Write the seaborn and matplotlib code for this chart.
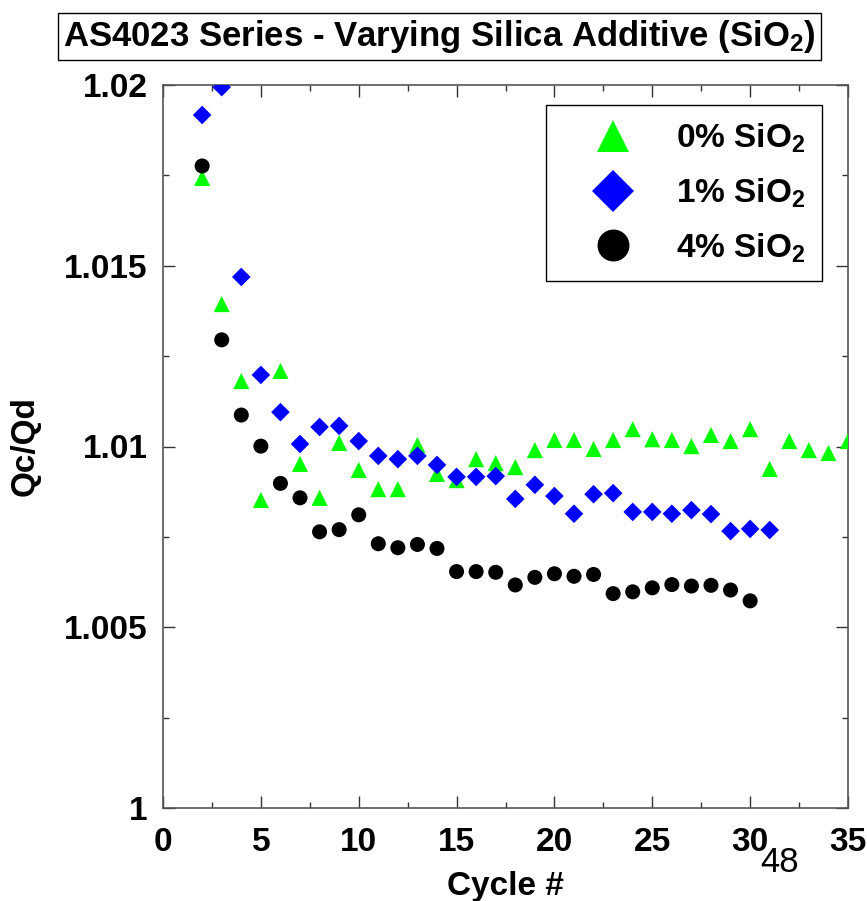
import numpy as np
import pandas as pd
import seaborn as sns
import matplotlib
matplotlib.use("Agg")
import matplotlib.pyplot as plt
from matplotlib.lines import Line2D
from matplotlib.ticker import MultipleLocator, FixedLocator, FixedFormatter

# ---- data ----
cycles_0 = list(range(2, 36))
qcqd_0 = [1.01743, 1.01394, 1.01181, 1.00852, 1.01209, 1.00952, 1.00858, 1.01010,
          1.00935, 1.00882, 1.00882, 1.01004, 1.00924, 1.00907, 1.00965, 1.00954,
          1.00943, 1.00990, 1.01018, 1.01018, 1.00993, 1.01018, 1.01048, 1.01020,
          1.01018, 1.01001, 1.01032, 1.01015, 1.01048, 1.00938, 1.01015, 1.00990,
          1.00982, 1.01015]

cycles_1 = list(range(2, 32))
qcqd_1 = [1.01917, 1.01994, 1.01469, 1.01198, 1.01095, 1.01007, 1.01054, 1.01057,
          1.01015, 1.00974, 1.00965, 1.00974, 1.00949, 1.00916, 1.00916, 1.00918,
          1.00855, 1.00894, 1.00863, 1.00814, 1.00868, 1.00871, 1.00819, 1.00819,
          1.00814, 1.00824, 1.00813, 1.00766, 1.00772, 1.00769]

cycles_4 = list(range(2, 31))
qcqd_4 = [1.01776, 1.01295, 1.01087, 1.01001, 1.00898, 1.00858, 1.00764, 1.00770,
          1.00811, 1.00731, 1.00720, 1.00729, 1.00718, 1.00654, 1.00654, 1.00652,
          1.00617, 1.00638, 1.00648, 1.00641, 1.00646, 1.00593, 1.00598, 1.00609,
          1.00618, 1.00614, 1.00616, 1.00603, 1.00573]

series_names = ["0% SiO$_2$", "1% SiO$_2$", "4% SiO$_2$"]
series_colors = ["#00FF00", "#0000FF", "#000000"]
series_markers = ["^", "D", "o"]

x_ticks = [0, 5, 10, 15, 20, 25, 30, 35]
x_tick_labels = ["0", "5", "10", "15", "20", "25", "30", "35"]
y_ticks = [1.0, 1.005, 1.01, 1.015, 1.02]
y_tick_labels = ["1", "1.005", "1.01", "1.015", "1.02"]

df = pd.concat([
    pd.DataFrame({"Cycle": cycles_0, "QcQd": qcqd_0, "Series": series_names[0]}),
    pd.DataFrame({"Cycle": cycles_1, "QcQd": qcqd_1, "Series": series_names[1]}),
    pd.DataFrame({"Cycle": cycles_4, "QcQd": qcqd_4, "Series": series_names[2]}),
], ignore_index=True)

# ---- style ----
sns.set_style("white")
plt.rcParams["font.family"] = ["Liberation Sans", "DejaVu Sans"]
plt.rcParams["mathtext.fontset"] = "custom"
plt.rcParams["mathtext.rm"] = "Liberation Sans:bold"
plt.rcParams["mathtext.default"] = "rm"
for key in ["text.color", "axes.labelcolor", "xtick.color", "ytick.color"]:
    plt.rcParams[key] = "black"

W, H = 867, 901
fig = plt.figure(figsize=(W / 100, H / 100), dpi=100)
ax = fig.add_axes([163 / W, 1 - 808 / H, 685 / W, 723 / H])

palette = dict(zip(series_names, series_colors))
markers = dict(zip(series_names, series_markers))
sizes = {"0% SiO$_2$": 135, "1% SiO$_2$": 90, "4% SiO$_2$": 117}
for name in series_names:
    sub = df[df["Series"] == name]
    sns.scatterplot(data=sub, x="Cycle", y="QcQd", color=palette[name],
                    marker=markers[name], s=sizes[name], edgecolor="none",
                    linewidth=0, ax=ax, legend=False, zorder=3)

ax.set_xlim(0, 35)
ax.set_ylim(1.0, 1.02)
ax.xaxis.set_major_locator(FixedLocator(x_ticks))
ax.xaxis.set_major_formatter(FixedFormatter(x_tick_labels))
ax.xaxis.set_minor_locator(MultipleLocator(2.5))
ax.yaxis.set_major_locator(FixedLocator(y_ticks))
ax.yaxis.set_major_formatter(FixedFormatter(y_tick_labels))
ax.yaxis.set_minor_locator(MultipleLocator(0.0025))

ax.tick_params(which="both", direction="in", top=True, right=True,
               bottom=True, left=True, color="#333333", labelcolor="black",
               width=1)
ax.tick_params(which="major", length=8.6)
ax.tick_params(which="minor", length=4.3)
ax.tick_params(axis="x", which="major", pad=14, labelsize=24)
ax.tick_params(axis="y", which="major", pad=11, labelsize=24)
for lab in ax.get_xticklabels() + ax.get_yticklabels():
    lab.set_fontweight("bold")
for sp in ax.spines.values():
    sp.set_color("#555555")
    sp.set_linewidth(1.2)

ax.set_xlabel("Cycle #", fontsize=24, fontweight="bold", color="black")
ax.set_ylabel("Qc/Qd", fontsize=24, fontweight="bold", color="black")
ax.xaxis.set_label_coords(0.5, (808 - 886) / 723)
ax.xaxis.label.set_va("center")
ax.yaxis.set_label_coords((25 - 163) / 685, 0.5)
ax.yaxis.label.set_va("center")

# legend
handles = [Line2D([], [], linestyle="none", marker=m, color=c, markersize=ms,
                  markeredgewidth=0)
           for m, c, ms in zip(series_markers, series_colors, [23, 21, 23])]
leg = ax.legend(handles, series_names, loc="upper right",
                bbox_to_anchor=((822 - 163) / 685, (808 - 105) / 723),
                borderaxespad=0, frameon=True, fancybox=False,
                prop={"family": "Liberation Sans", "weight": "bold", "size": 24},
                handletextpad=0.4, labelspacing=0.64, borderpad=0.5,
                handlelength=3.0)
leg.get_frame().set_edgecolor("black")
leg.get_frame().set_linewidth(1.0)
leg.get_frame().set_alpha(1)
for t in leg.get_texts():
    t.set_color("black")

# title in box
fig.text((61 + 818) / 2 / W, 1 - 36.7 / H,
         "AS4023 Series - Varying Silica Additive (SiO$_2$)",
         ha="center", va="center", fontsize=25, fontweight="bold", color="black",
         bbox=dict(boxstyle="square,pad=0.15", facecolor="white",
                   edgecolor="black", linewidth=1))

# slide number
fig.text(780 / W, 1 - 862 / H, "48", ha="center", va="center", fontsize=25,
         color="black")

fig.savefig("out.png", dpi=100)
